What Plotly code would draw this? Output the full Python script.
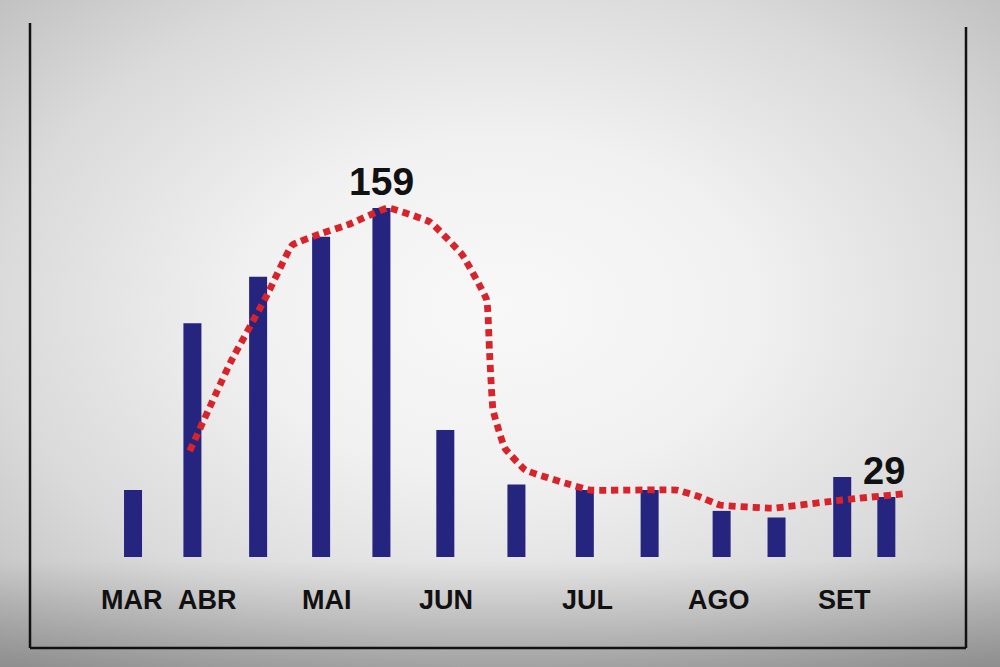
import base64
import plotly.graph_objects as go

# ---- data ----
bar_days = [0, 6.6, 13.9, 20.9, 27.6, 34.7, 42.6, 50.2, 57.4, 65.4, 71.5, 78.8, 83.7]
bar_values = [30.5, 106.5, 127.7, 145.9, 159, 57.9, 33, 30.5, 30.5, 21, 18, 36.4, 27.3]

line_days = [6.3, 10.8, 14.9, 17.7, 20.8, 24.1, 28.3, 33.0, 36.6, 39.3, 39.6, 40.0,
             41.3, 43.6, 48.0, 50.8, 60.4, 63.0, 65.2, 71.1, 77.8, 86.0]
line_values = [48.3, 88.4, 119.4, 142.1, 147.2, 151.7, 159, 152.6, 137.6, 117.1, 94.3, 67.0,
               49.7, 39.6, 33.7, 30.5, 30.5, 27.3, 23.7, 22.3, 25.5, 29]

month_labels = ["MAR", "ABR", "MAI", "JUN", "JUL", "AGO", "SET"]
month_days = [-0.14, 8.3, 21.5, 34.8, 50.5, 65.1, 79.0]

peak_label = "159"
end_label = "29"

# ---- background (radial gradient as SVG image) ----
svg = """<svg xmlns='http://www.w3.org/2000/svg' width='1000' height='667' viewBox='0 0 1000 667' preserveAspectRatio='none'>
<defs>
<radialGradient id='g' cx='0.5' cy='0.46' r='0.72'>
<stop offset='0' stop-color='#f8f8f8'/>
<stop offset='0.35' stop-color='#f1f1f1'/>
<stop offset='0.7' stop-color='#dadada'/>
<stop offset='1' stop-color='#bcbcbc'/>
</radialGradient>
<linearGradient id='f' x1='0' y1='0' x2='0' y2='1'>
<stop offset='0' stop-color='#000' stop-opacity='0'/>
<stop offset='0.84' stop-color='#000' stop-opacity='0'/>
<stop offset='1' stop-color='#000' stop-opacity='0.24'/>
</linearGradient>
</defs>
<rect width='1000' height='667' fill='url(#g)'/>
<rect width='1000' height='667' fill='url(#f)'/>
</svg>"""
bg_src = "data:image/svg+xml;base64," + base64.b64encode(svg.encode()).decode()

FONT = "Liberation Sans, Arial, sans-serif"

fig = go.Figure()
fig.add_trace(go.Bar(
    x=bar_days, y=bar_values, width=2.0,
    marker=dict(color="#25247f", line=dict(width=0)),
    hoverinfo="skip",
))
fig.add_trace(go.Scatter(
    x=line_days, y=line_values, mode="lines",
    line=dict(color="#d8232a", width=6.8, dash="7px,5px", shape="spline", smoothing=0.3),
    hoverinfo="skip",
))

annotations = []
for lab, d in zip(month_labels, month_days):
    annotations.append(dict(
        x=d, y=-19.6, xref="x", yref="y", text=f"<b>{lab}</b>", showarrow=False,
        font=dict(family=FONT, size=27, color="#111111"), xanchor="center", yanchor="middle",
    ))
annotations.append(dict(
    x=bar_days[bar_values.index(max(bar_values))], y=171, xref="x", yref="y",
    text=f"<b>{peak_label}</b>", showarrow=False,
    font=dict(family=FONT, size=39, color="#111111"), xanchor="center", yanchor="middle",
))
annotations.append(dict(
    x=83.4, y=39, xref="x", yref="y",
    text=f"<b>{end_label}</b>", showarrow=False,
    font=dict(family=FONT, size=38, color="#111111"), xanchor="center", yanchor="middle",
))

shapes = [
    dict(type="line", xref="paper", yref="paper", x0=0.030, x1=0.030, y0=0.0285, y1=0.9655,
         line=dict(color="#111111", width=2.5)),
    dict(type="line", xref="paper", yref="paper", x0=0.966, x1=0.966, y0=0.0285, y1=0.9595,
         line=dict(color="#111111", width=2.5)),
    dict(type="line", xref="paper", yref="paper", x0=0.030, x1=0.966, y0=0.0285, y1=0.0285,
         line=dict(color="#111111", width=2.5)),
]

fig.update_layout(
    width=1000, height=667,
    margin=dict(l=0, r=0, t=0, b=0),
    paper_bgcolor="#d8d8d8",
    plot_bgcolor="rgba(0,0,0,0)",
    showlegend=False,
    xaxis=dict(range=[-14.78, 96.33], visible=False, fixedrange=True),
    yaxis=dict(range=[-50.11, 253.76], visible=False, fixedrange=True),
    images=[dict(source=bg_src, xref="paper", yref="paper", x=0, y=1, sizex=1, sizey=1,
                 xanchor="left", yanchor="top", sizing="stretch", layer="below")],
    annotations=annotations,
    shapes=shapes,
)

fig.write_html(
    "out.html",
    config={"displayModeBar": False},
    post_script="document.body.style.margin='0';document.body.style.padding='0';"
                "document.body.style.overflow='hidden';",
)
